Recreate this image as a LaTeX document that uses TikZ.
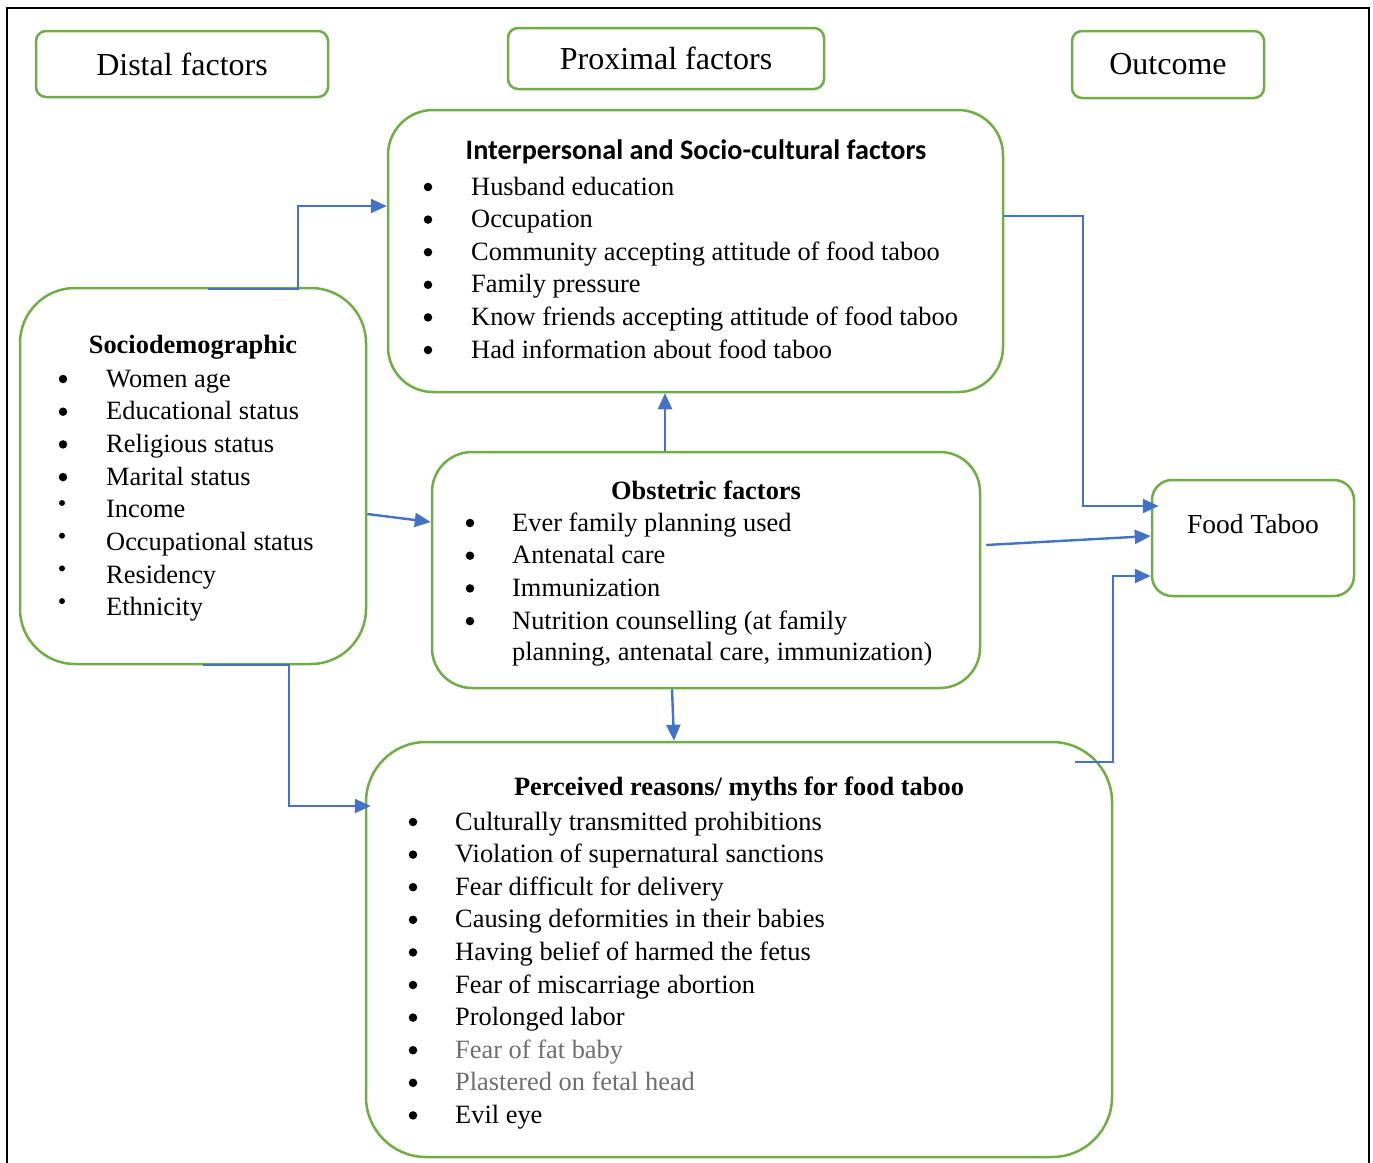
\documentclass[tikz,border=0pt]{standalone}
\usepackage{fontspec}
\setmainfont{Liberation Serif}
\newfontfamily\calibrifont{Carlito}
\usepackage{xcolor}
\usepackage{tikz}
\usetikzlibrary{
    positioning,
    arrows.meta,
    calc
}
\definecolor{boxgreen}{HTML}{70AD47}
\definecolor{linkblue}{HTML}{4472C4}
\definecolor{fadedtext}{HTML}{6E6E6E}
\tikzset{
    factorbox/.style={
        draw=boxgreen, line width=2.5pt,
        rounded corners=10pt, inner sep=0pt
    },
    headtext/.style={
        font=\fontsize{32}{38}\selectfont
    },
    titletext/.style={
        font=\fontsize{26.4}{32.7}\selectfont\bfseries, inner sep=0pt
    },
    calibrititle/.style={
        font=\calibrifont\fontsize{28.2}{34}\selectfont\bfseries, inner sep=0pt
    },
    itemtext/.style={
        font=\fontsize{26.4}{32.7}\selectfont, inner sep=0pt, anchor=base west
    },
    bulletmark/.style={
        circle, fill=black, inner sep=0pt, minimum size=8.5pt
    },
    smalldot/.style={
        minimum size=6pt
    },
    arrow/.style={
        -{Triangle[length=16pt, width=14pt]}, line width=2.4pt, draw=linkblue
    }
}

\begin{document}
\begin{tikzpicture}[x=1pt, y=-1pt]
    \useasboundingbox (0,0) rectangle (1373,1162);

    % --- FRAME ---
    \draw[line width=2.5pt] (7,1175) -- (7,8) -- (1369,8) -- (1369,1175);

    % --- COLUMN HEADINGS ---
    \node[factorbox, headtext, minimum width=292pt, minimum height=66pt] (distal) at (182,64) {Distal factors};
    \node[factorbox, headtext, minimum width=316pt, minimum height=61pt] (proximal) at (666,58.5) {Proximal factors};
    \node[factorbox, headtext, minimum width=192pt, minimum height=67pt] (outcome) at (1168,64.5) {Outcome};

    % --- BOXES ---
    \node[factorbox, rounded corners=45pt, minimum width=615pt, minimum height=282pt] (inter) at (695.5,251) {};
    \node[factorbox, rounded corners=55pt, minimum width=346pt, minimum height=376pt] (socio) at (193,476) {};
    \node[factorbox, rounded corners=40pt, minimum width=548pt, minimum height=236pt] (obst) at (706,570) {};
    \node[factorbox, rounded corners=20pt, minimum width=202pt, minimum height=116pt] (food) at (1253,538) {};
    \node[factorbox, rounded corners=60pt, minimum width=746pt, minimum height=415pt] (perc) at (739,949.5) {};

    % --- INTERPERSONAL ---
    \node[calibrititle] (inter-title) at (696,152) {Interpersonal and Socio-cultural factors};
    \foreach \txt [count=\i] in {Husband education, Occupation,
        Community accepting attitude of food taboo, Family pressure,
        Know friends accepting attitude of food taboo, Had information about food taboo} {
        \node[bulletmark] (inter-dot\i) at (428,{187+32.6*(\i-1)}) {};
        \node[itemtext] (inter-\i) at (471,{195+32.6*(\i-1)}) {\txt};
    }

    % --- SOCIODEMOGRAPHIC ---
    \node[titletext] (socio-title) at (193,347) {Sociodemographic};
    \foreach \txt [count=\i] in {Women age, Educational status, Religious status,
        Marital status, Income, Occupational status, Residency, Ethnicity} {
        \node[itemtext] (socio-\i) at (106,{387+32.7*(\i-1)}) {\txt};
    }
    \foreach \i in {1,...,4}
        \node[bulletmark] (socio-dot\i) at (63,{379+32.7*(\i-1)}) {};
    \foreach \i in {5,...,8}
        \node[bulletmark, smalldot] (socio-dot\i) at (62,{503+32.7*(\i-5)}) {};

    % --- OBSTETRIC ---
    \node[titletext] (obst-title) at (706,490) {Obstetric factors};
    \foreach \txt [count=\i] in {Ever family planning used, Antenatal care,
        Immunization, Nutrition counselling (at family} {
        \node[bulletmark] (obst-dot\i) at (470,{523+32.7*(\i-1)}) {};
        \node[itemtext] (obst-\i) at (512,{531+32.7*(\i-1)}) {\txt};
    }
    \node[itemtext] (obst-4b) at (512,660) {planning, antenatal care, immunization)};

    % --- OUTCOME ---
    \node[itemtext, anchor=center, font=\fontsize{27.5}{33}\selectfont] (food-text) at (1253,524) {Food Taboo};

    % --- PERCEIVED REASONS ---
    \node[titletext] (perc-title) at (739,789) {Perceived reasons/ myths for food taboo};
    \foreach \txt [count=\i] in {Culturally transmitted prohibitions,
        Violation of supernatural sanctions, Fear difficult for delivery,
        Causing deformities in their babies, Having belief of harmed the fetus,
        Fear of miscarriage abortion, Prolonged labor,
        \textcolor{fadedtext}{Fear of fat baby},
        \textcolor{fadedtext}{Plastered on fetal head}, Evil eye} {
        \node[bulletmark] (perc-dot\i) at (413,{822+32.6*(\i-1)}) {};
        \node[itemtext] (perc-\i) at (455,{830+32.6*(\i-1)}) {\txt};
    }

    % --- ARROWS ---
    \draw[arrow] ([xshift=15pt,yshift=-2pt]socio.north) -- ++(90,0) |- ([yshift=45pt]inter.west);
    \draw[arrow] ([yshift=-38pt]socio.east) -- ([yshift=48pt]obst.west);
    \draw[arrow] ([xshift=10pt]socio.south) -- ++(86,0) |- ([xshift=6pt,yshift=143.5pt]perc.west);
    \draw[arrow] ([xshift=-41pt]obst.north) -- ([xshift=-41pt]obst.north |- inter.south);
    \draw[arrow] ([xshift=-34pt]obst.south) -- ([xshift=-65pt]perc.north);
    \draw[arrow] ([yshift=35pt]inter.east) -- ++(79,0) |- ([xshift=8pt,yshift=32pt]food.west);
    \draw[arrow] ([xshift=5pt,yshift=25pt]obst.east) -- ([yshift=2pt]food.west);
    \draw[arrow] ([xshift=336pt,yshift=-21pt]perc.north) -- ++(38,0) |- ([yshift=-38pt]food.west);

\end{tikzpicture}
\end{document}
